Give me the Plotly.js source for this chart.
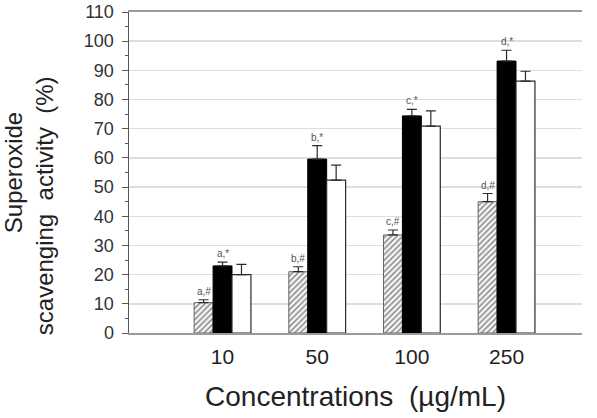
<!DOCTYPE html>
<html>
<head>
<meta charset="utf-8">
<script src="https://cdn.plot.ly/plotly-3.0.1.min.js"></script>
<style>
  html, body { margin: 0; padding: 0; background: #fff; }
  #chart { width: 597px; height: 418px; }
</style>
</head>
<body>
<div id="chart"></div>
<script>
// Concentration groups
const categories = ['10', '50', '100', '250'];

// Hatched series (left bar in each group)
const hatchValues = [10.4, 21.0, 33.6, 45.0];
const hatchErrors = [1.0, 1.7, 1.7, 2.8];
const hatchLabels = ['a,#', 'b,#', 'c,#', 'd,#'];

// Black series (middle bar)
const blackValues = [23.0, 59.6, 74.4, 93.2];
const blackErrors = [1.3, 4.6, 2.2, 3.7];
const blackLabels = ['a,*', 'b,*', 'c,*', 'd,*'];

// White series (right bar)
const whiteValues = [20.0, 52.4, 70.9, 86.3];
const whiteErrors = [3.5, 5.1, 5.2, 3.4];

const yTicks = [0, 10, 20, 30, 40, 50, 60, 70, 80, 90, 100, 110];

const idx = categories.map((c, i) => i);
const zeros = categories.map(() => 0);
const edge = '#2b2b2b';
const font = 'Liberation Sans, Arial, sans-serif';
const nb = '\u00a0';

function errBar(arr) {
  return {
    type: 'data', symmetric: false, array: arr, arrayminus: zeros,
    color: edge, thickness: 1.2, width: 5
  };
}

const traces = [
  {
    type: 'bar', x: idx, y: hatchValues, name: 'hatched',
    marker: {
      color: '#ffffff',
      line: { color: '#666666', width: 1 },
      pattern: { shape: '/', fgcolor: '#808080', bgcolor: '#f4f4f4', size: 4, solidity: 0.35 }
    },
    error_y: errBar(hatchErrors)
  },
  {
    type: 'bar', x: idx, y: blackValues, name: 'black',
    marker: { color: '#000000', line: { color: '#000000', width: 1 } },
    error_y: errBar(blackErrors)
  },
  {
    type: 'bar', x: idx, y: whiteValues, name: 'white',
    marker: { color: '#ffffff', line: { color: edge, width: 1.2 } },
    error_y: errBar(whiteErrors)
  }
];

// Significance letters above the hatched and black bars
const annotations = [];
idx.forEach(i => {
  annotations.push({
    x: i - 0.2, y: hatchValues[i] + hatchErrors[i], text: hatchLabels[i],
    showarrow: false, yanchor: 'bottom', yshift: 1,
    font: { family: font, size: 10, color: '#555555' }
  });
  annotations.push({
    x: i, y: blackValues[i] + blackErrors[i], text: blackLabels[i],
    showarrow: false, yanchor: 'bottom', yshift: 1,
    font: { family: font, size: 10, color: '#555555' }
  });
});

// Second title line sits lower than the first: pad its far end
// (a zero-width space keeps the padding from being trimmed)
const yTitle = 'Superoxide<br>scavenging' + nb + nb + 'activity' + nb + nb + '(%)' + nb.repeat(10) + '\u200b';

const layout = {
  width: 597, height: 418,
  margin: { l: 129, r: 15, t: 12, b: 85 },
  paper_bgcolor: '#ffffff', plot_bgcolor: '#ffffff',
  showlegend: false,
  barmode: 'group', bargap: 0.4, bargroupgap: 0,
  font: { family: font, color: '#222222' },
  xaxis: {
    range: [-0.988, 3.797],
    tickvals: idx, ticktext: categories,
    ticks: '', showgrid: false, zeroline: false,
    showline: true, mirror: true, linecolor: '#9a9a9a', linewidth: 2,
    ticklabelstandoff: 4,
    tickfont: { family: font, size: 21, color: '#222222' },
    title: { text: 'Concentrations' + nb + nb + '(\u00b5g/mL)', font: { family: font, size: 28, color: '#222222' }, standoff: 19 }
  },
  yaxis: {
    range: [0, 110],
    tickvals: yTicks,
    ticks: 'outside', ticklen: 6, tickwidth: 1, tickcolor: '#555555',
    minor: { dtick: 5, ticks: 'outside', ticklen: 3, tickcolor: '#555555', showgrid: false },
    showgrid: true, gridcolor: '#dedede', gridwidth: 1.5,
    zeroline: false,
    showline: true, linecolor: '#555555', linewidth: 1.5,
    ticklabelstandoff: 4,
    tickfont: { family: font, size: 18, color: '#333333' },
    title: { text: yTitle, font: { family: font, size: 24, color: '#222222' }, standoff: 26 }
  },
  annotations: annotations
};

Plotly.newPlot('chart', traces, layout, { staticPlot: true, displayModeBar: false });
</script>
</body>
</html>
